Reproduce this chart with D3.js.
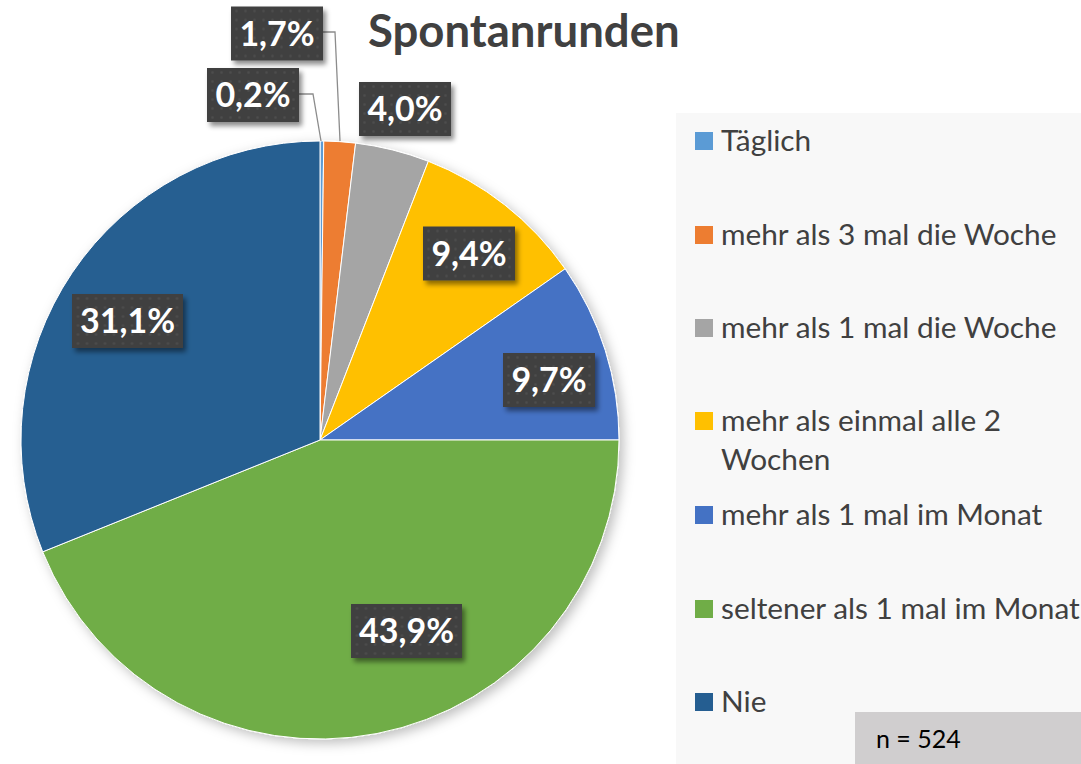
<!DOCTYPE html>
<html>
<head>
<meta charset="utf-8">
<script src="https://cdn.jsdelivr.net/npm/d3@7"></script>
<style>
  body { margin: 0; background: #fff; }
  svg { display: block; }
</style>
</head>
<body>
<div id="chart"></div>
<script>
// data
var categories = ["Täglich", "mehr als 3 mal die Woche", "mehr als 1 mal die Woche",
  "mehr als einmal alle 2 Wochen", "mehr als 1 mal im Monat",
  "seltener als 1 mal im Monat", "Nie"];
var values = [0.2, 1.7, 4.0, 9.4, 9.7, 43.9, 31.1];
var colors = ["#5b9bd5", "#ed7d31", "#a5a5a5", "#ffc000", "#4472c4", "#70ad47", "#255e91"];
var title = "Spontanrunden";
var sampleNote = "n = 524";

var width = 1081, height = 764;
var cx = 320, cy = 440, radius = 299;

var fmt = d => d.toFixed(1).replace(".", ",") + "%";

var svg = d3.select("#chart").append("svg")
  .attr("width", width)
  .attr("height", height)
  .style("font-family", "Lato, sans-serif");

var defs = svg.append("defs");
var pat = defs.append("pattern")
  .attr("id", "dots")
  .attr("width", 9).attr("height", 9)
  .attr("patternUnits", "userSpaceOnUse");
pat.append("rect").attr("width", 9).attr("height", 9).attr("fill", "#404040");
pat.append("circle").attr("cx", 4.5).attr("cy", 4.5).attr("r", 1.3).attr("fill", "#4d4d4d");

var shadow = defs.append("filter").attr("id", "shadow")
  .attr("x", "-20%").attr("y", "-20%").attr("width", "150%").attr("height", "160%");
shadow.append("feDropShadow")
  .attr("dx", 3).attr("dy", 4).attr("stdDeviation", 2.5)
  .attr("flood-color", "#000").attr("flood-opacity", 0.45);

var pieShadow = defs.append("filter").attr("id", "pieShadow")
  .attr("x", "-10%").attr("y", "-10%").attr("width", "125%").attr("height", "125%");
pieShadow.append("feDropShadow")
  .attr("dx", 4).attr("dy", 4).attr("stdDeviation", 6)
  .attr("flood-color", "#000").attr("flood-opacity", 0.25);

// legend background
svg.append("rect")
  .attr("x", 676).attr("y", 113)
  .attr("width", width - 676).attr("height", height - 113)
  .attr("fill", "#f8f8f8");

var pie = d3.pie().sort(null).value(d => d.v);
var arc = d3.arc().innerRadius(0).outerRadius(radius);
var rows = categories.map((c, i) => ({ name: c, v: values[i], color: colors[i] }));
var arcs = pie(rows);

var g = svg.append("g")
  .attr("transform", `translate(${cx},${cy})`)
  .attr("filter", "url(#pieShadow)");
g.selectAll("path")
  .data(arcs)
  .enter()
  .append("path")
  .attr("d", arc)
  .attr("fill", d => d.data.color)
  .attr("stroke", "#fff")
  .attr("stroke-width", 1);

// label spots (Excel "best fit"), leader lines for the tiny slices
var labelSpot = {
  "Täglich": { x: 253, y: 95, lead: [[299, 94], [313, 94], [321, 141]] },
  "mehr als 3 mal die Woche": { x: 277, y: 33.5, lead: [[323, 32], [335, 32], [340, 141]] },
  "mehr als 1 mal die Woche": { x: 405, y: 109 },
  "mehr als einmal alle 2 Wochen": { x: 469, y: 253.5 },
  "mehr als 1 mal im Monat": { x: 549, y: 380 },
  "seltener als 1 mal im Monat": { x: 406.5, y: 631 },
  "Nie": { x: 127.5, y: 321 }
};

arcs.forEach(d => {
  var spot = labelSpot[d.data.name];
  if (spot.lead) {
    svg.append("path")
      .attr("d", d3.line()(spot.lead))
      .attr("fill", "none")
      .attr("stroke", "#8c8c8c")
      .attr("stroke-width", 1.3);
  }
  var lg = svg.append("g").attr("transform", `translate(${spot.x},${spot.y})`);
  var txt = fmt(d.data.v);
  var w = txt.length > 4 ? 111 : 92;
  lg.append("rect")
    .attr("x", -w / 2).attr("y", -27)
    .attr("width", w).attr("height", 54)
    .attr("fill", "url(#dots)")
    .attr("filter", "url(#shadow)");
  lg.append("text")
    .attr("text-anchor", "middle")
    .attr("dy", "0.36em")
    .attr("fill", "#fff")
    .style("font-weight", "bold")
    .style("font-size", "34px")
    .text(txt);
});

svg.append("text")
  .attr("x", 368).attr("y", 47)
  .attr("fill", "#404040")
  .style("font-weight", "bold")
  .style("font-size", "45.5px")
  .text(title);

// legend
var legendY = [141, 235, 328, 421, 515, 609, 702];
var lg = svg.append("g");
categories.forEach((c, i) => {
  var y = legendY[i];
  lg.append("rect")
    .attr("x", 695).attr("y", y - 9)
    .attr("width", 18).attr("height", 18)
    .attr("fill", colors[i]);
  var t = lg.append("text")
    .attr("x", 721).attr("y", y + 10)
    .attr("fill", "#404040")
    .style("font-size", "29.8px");
  if (c === "mehr als einmal alle 2 Wochen") {
    t.append("tspan").attr("x", 721).text("mehr als einmal alle 2");
    t.append("tspan").attr("x", 721).attr("dy", 39).text("Wochen");
  } else {
    t.text(c);
  }
});

svg.append("rect")
  .attr("x", 855).attr("y", 712)
  .attr("width", width - 855).attr("height", height - 712)
  .attr("fill", "#d0cecf");
svg.append("text")
  .attr("x", 876).attr("y", 748)
  .attr("fill", "#000")
  .style("font-size", "25px")
  .text(sampleNote);
</script>
</body>
</html>
